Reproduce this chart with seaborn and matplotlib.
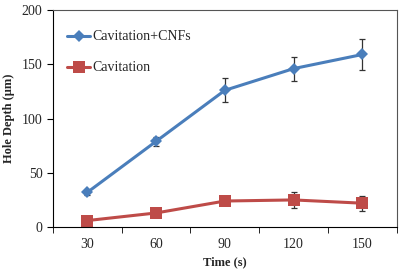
import matplotlib
matplotlib.use("Agg")
import matplotlib.pyplot as plt
import seaborn as sns
import pandas as pd
import numpy as np

times = ["30", "60", "90", "120", "150"]
cnf_vals = [32, 79, 126, 146, 159]
cnf_err = [2, 4, 11, 11, 14]
cav_vals = [6, 13, 24, 25, 22]
cav_err = [1, 2, 3, 7, 7]

sns.set_style("white")
plt.rcParams['font.family'] = ['Liberation Serif', 'DejaVu Serif']

fig = plt.figure(figsize=(4.03, 2.70), dpi=100)
ax = fig.add_axes([0.1315, 0.159, 0.853, 0.804])

pos = np.arange(len(times))
df = pd.DataFrame({
    "pos": np.concatenate([pos, pos]),
    "val": cnf_vals + cav_vals,
    "series": ["Cavitation+CNFs"] * 5 + ["Cavitation"] * 5,
})
blue = "#4A7EBB"
red = "#BE4B48"

ax.errorbar(pos, cnf_vals, yerr=cnf_err, fmt="none", ecolor="#333333", elinewidth=0.9, capsize=2.5, capthick=0.9, zorder=1)
ax.errorbar(pos, cav_vals, yerr=cav_err, fmt="none", ecolor="#333333", elinewidth=0.9, capsize=2.5, capthick=0.9, zorder=1)
sns.lineplot(data=df, x="pos", y="val", hue="series", style="series",
             palette={"Cavitation+CNFs": blue, "Cavitation": red},
             markers={"Cavitation+CNFs": "D", "Cavitation": "s"},
             dashes=False, linewidth=2.2, markersize=6, markeredgewidth=0,
             ax=ax, zorder=2)
for line in ax.get_lines():
    if line.get_marker() == "s":
        line.set_markersize(8)

ax.set_xlim(-0.5, 4.5)
ax.set_ylim(0, 200)
ax.set_yticks([0, 50, 100, 150, 200])
ax.set_xticks(pos)
ax.set_xticklabels(times)
ax.set_xticks(np.arange(-0.5, 5, 1), minor=True)
ax.tick_params(axis="x", which="major", length=0, labelsize=10, pad=8)
ax.tick_params(axis="x", which="minor", length=4, direction="out", bottom=True, color="black")
ax.tick_params(axis="y", length=4, direction="out", left=True, labelsize=10, color="black")
for s in ax.spines.values():
    s.set_color("#555555")
    s.set_linewidth(0.8)
ax.spines["left"].set_color("black")
ax.spines["bottom"].set_color("black")

ax.set_xlabel("Time (s)", fontweight="bold", fontsize=9, labelpad=4)
ax.set_ylabel("Hole Depth (μm)", fontweight="bold", fontsize=9, labelpad=5)

leg = ax.legend(loc="upper left", frameon=False, fontsize=10, labelspacing=1.3,
                handlelength=1.7, handletextpad=0.1, bbox_to_anchor=(0.0, 0.97), borderaxespad=0.6)

fig.savefig("out.png", dpi=100)
